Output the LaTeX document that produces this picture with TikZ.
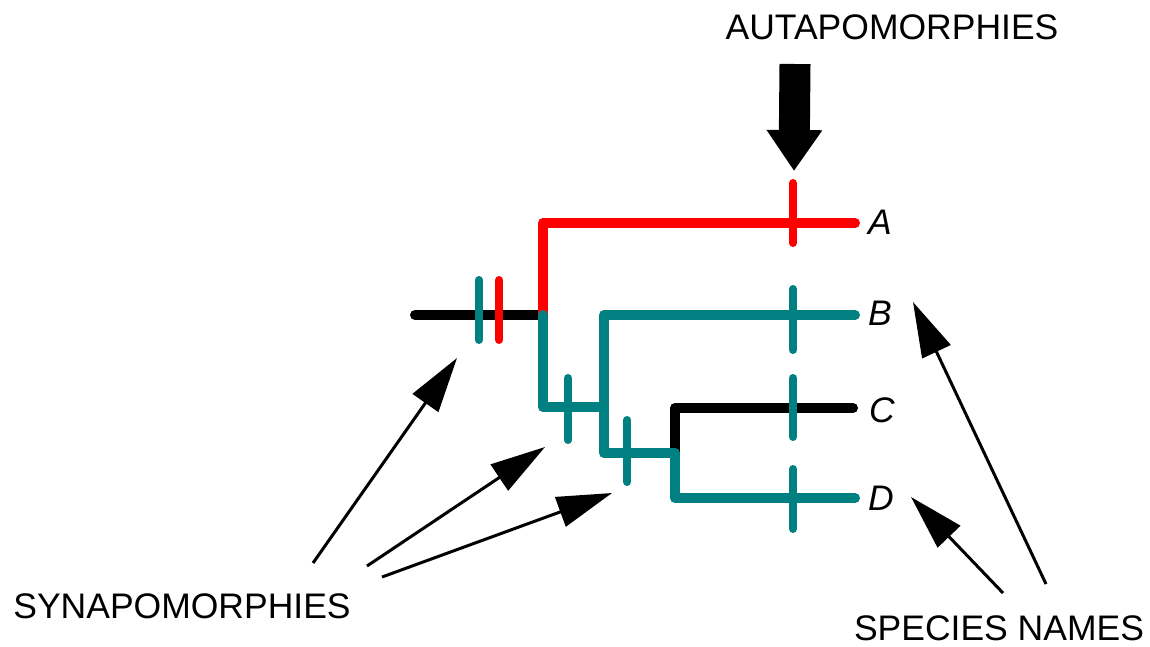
\documentclass[tikz,border=0pt]{standalone}
\usepackage{fontspec}
\setmainfont{Liberation Sans}
\usetikzlibrary{arrows.meta}
\definecolor{tealc}{RGB}{0,128,128}
\definecolor{redc}{RGB}{255,0,0}
\begin{document}
\begin{tikzpicture}[x=1pt,y=-1pt,
  branch/.style={line width=10pt, line cap=round, line join=round},
  tickmark/.style={line width=8pt, line cap=round},
  lbl/.style={font=\fontsize{35.5}{40}\selectfont, inner sep=0pt},
  sp/.style={font=\fontsize{35.5}{40}\selectfont\itshape, inner sep=0pt, anchor=west},
  pointer/.style={line width=3pt, -{Triangle[length=55pt,width=31pt]}},
  bigarrow/.style={line width=31pt, line cap=butt, -{Triangle[length=41pt,width=53pt]}},
]
\useasboundingbox (0,0) rectangle (1150,646);

% ---- tree ----
\draw[branch, black] (415,315) -- (540,315);
\draw[branch, redc] (543,315) -- (543,223) -- (855,223);
\draw[branch, tealc] (543,315) -- (543,407) -- (604,407);
\draw[branch, black] (675,453) -- (675,408) -- (853,408);
\draw[branch, tealc] (855,315) -- (604,315) -- (604,453) -- (675,453) -- (675,498) -- (855,498);

% ---- synapomorphy ticks ----
\draw[tickmark, tealc] (479,280) -- (479,340);
\draw[tickmark, redc] (499,280) -- (499,340);
\draw[tickmark, tealc] (568,378) -- (568,440);
\draw[tickmark, tealc] (627,420) -- (627,482);

% ---- autapomorphy ticks ----
\draw[tickmark, redc] (793,183) -- (793,243);
\draw[tickmark, tealc] (793,289) -- (793,350);
\draw[tickmark, tealc] (793,378) -- (793,437);
\draw[tickmark, tealc] (793,469) -- (793,529);

% ---- labels ----
\node[sp] (A) at (868,222) {A};
\node[sp] (B) at (868,313) {B};
\node[sp] (C) at (869,410) {C};
\node[sp] (D) at (868,498) {D};
\node[lbl] (auta) at (892,27) {AUTAPOMORPHIES};
\node[lbl] (syna) at (182,606) {SYNAPOMORPHIES};
\node[lbl] (spec) at (999,628) {SPECIES NAMES};

% ---- arrow ends ----
\coordinate (bigS) at (795,64);
\coordinate (bigT) at (794,171);
\coordinate (s1) at (313,563);
\coordinate (t1) at (457,358);
\coordinate (s2) at (367,566);
\coordinate (t2) at (545,447);
\coordinate (s3) at (382,577);
\coordinate (t3) at (612,493);
\coordinate (sB) at (1046,584);
\coordinate (tB) at (913,302);
\coordinate (sD) at (1003,593);
\coordinate (tD) at (911,497);

\draw[bigarrow] (bigS) -- (bigT);
\draw[pointer] (s1) -- (t1);
\draw[pointer] (s2) -- (t2);
\draw[pointer] (s3) -- (t3);
\draw[pointer] (sB) -- (tB);
\draw[pointer] (sD) -- (tD);
\end{tikzpicture}
\end{document}
